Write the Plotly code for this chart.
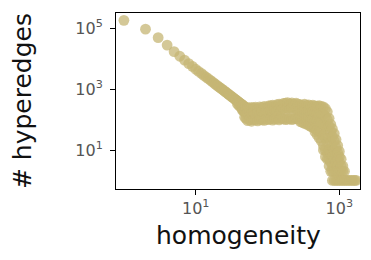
import plotly.graph_objects as go

# Steep power-law part: one count per homogeneity value
diag_x = list(range(1, 46)) + [38, 40, 42, 44, 45]
diag_y = [182000, 93000, 49000, 28000, 17000, 12000, 9000, 6900, 5600, 4500,
          3800, 3300, 2800, 2450, 2200, 1950, 1750, 1580, 1420, 1300,
          1190, 1100, 1010, 940, 870, 810, 760, 710, 660, 630,
          590, 550, 530, 500, 470, 450, 430, 400, 390, 370,
          350, 335, 320, 310, 300,
          330, 290, 260, 230, 200]

# Plateau and fall-off: several counts observed per homogeneity region
band_x = [46, 48, 50, 53, 56, 60, 64, 68, 73, 78, 84, 90, 96, 103, 110, 118,
          126, 135, 145, 155, 166, 178, 190, 204, 218, 233, 250, 268, 287,
          307, 328, 350, 375, 400, 428, 458, 490, 524, 560, 600, 640, 680,
          720, 760, 800, 850, 900, 950, 1000, 1060, 1120, 1180, 1250, 1320,
          1400, 1480, 1560, 1640, 1720]
band_y = [
    [290, 240, 200], [260, 180, 120], [240, 150, 110], [250, 170, 92],
    [230, 140, 98], [250, 160, 88], [240, 180, 100], [255, 150, 97],
    [225, 170, 90], [260, 140, 102], [250, 180, 98], [270, 160, 94],
    [245, 190, 104], [280, 170, 100], [285, 200, 105], [300, 180, 96],
    [270, 210, 104], [310, 190, 106], [320, 220, 98], [300, 200, 107],
    [340, 230, 105], [345, 200, 100], [360, 240, 104], [330, 210, 106],
    [350, 250, 100], [320, 200, 105], [345, 230, 110], [320, 190, 104],
    [310, 200, 130, 85], [290, 190, 120, 80], [320, 200, 120, 75],
    [290, 180, 110, 70], [305, 200, 120, 65], [280, 170, 100, 60],
    [295, 180, 100, 55], [280, 170, 90, 50, 40], [275, 160, 90, 45, 32],
    [285, 150, 80, 40, 25], [270, 160, 80, 40, 20],
    [260, 150, 70, 30, 14, 10], [230, 130, 60, 25, 10, 6],
    [180, 100, 45, 18, 8, 5], [110, 60, 25, 10, 5, 3],
    [70, 40, 18, 8, 4, 2], [50, 28, 12, 6, 3, 2, 1],
    [35, 20, 10, 5, 3, 2, 1], [22, 12, 7, 4, 2, 1], [14, 8, 5, 3, 2, 1],
    [9, 6, 4, 2, 1], [5, 3, 2, 1], [3, 2, 1], [2, 1], [1], [1],
    [1], [1], [1], [1], [1],
]

xs, ys = list(diag_x), list(diag_y)
for hx, counts in zip(band_x, band_y):
    for c in counts:
        xs.append(hx)
        ys.append(c)

x_tickvals = [10, 1000]
x_ticktext = ["10<sup>1</sup>", "10<sup>3</sup>"]
y_tickvals = [10, 1000, 100000]
y_ticktext = ["10<sup>1</sup>", "10<sup>3</sup>", "10<sup>5</sup>"]
x_title = "homogeneity"
y_title = "# hyperedges"

fig = go.Figure(go.Scatter(
    x=xs, y=ys, mode="markers",
    marker=dict(size=10.8, color="rgb(198,181,116)", opacity=0.75, line=dict(width=0)),
    hoverinfo="skip",
))

axis_common = dict(
    showline=True, linecolor="black", linewidth=1, mirror=True,
    ticks="outside", ticklen=5, tickwidth=1, tickcolor="black",
    showgrid=False, zeroline=False, automargin=False,
    tickfont=dict(family="DejaVu Sans", size=16, color="#555555"),
)

title_font = dict(family="DejaVu Sans", size=25, color="#111111")

fig.update_layout(
    width=371, height=260,
    margin=dict(l=116, r=11, t=13, b=71, autoexpand=False),
    paper_bgcolor="white", plot_bgcolor="white",
    showlegend=False,
    xaxis=dict(type="log", range=[-0.11, 3.288], tickvals=x_tickvals,
               ticktext=x_ticktext, **axis_common),
    yaxis=dict(type="log", range=[-0.28, 5.5], tickvals=y_tickvals,
               ticktext=y_ticktext, ticklabelstandoff=4, **axis_common),
    annotations=[
        dict(text=x_title, xref="paper", yref="paper", x=0.5, y=-0.267,
             xanchor="center", yanchor="middle", showarrow=False, font=title_font),
        dict(text=y_title, xref="paper", yref="paper", x=-0.385, y=0.5,
             xanchor="center", yanchor="middle", textangle=-90,
             showarrow=False, font=title_font),
    ],
)

fig.write_html("out.html", config={"displayModeBar": False, "staticPlot": True},
               post_script="document.body.style.margin='0';document.body.style.padding='0';")
